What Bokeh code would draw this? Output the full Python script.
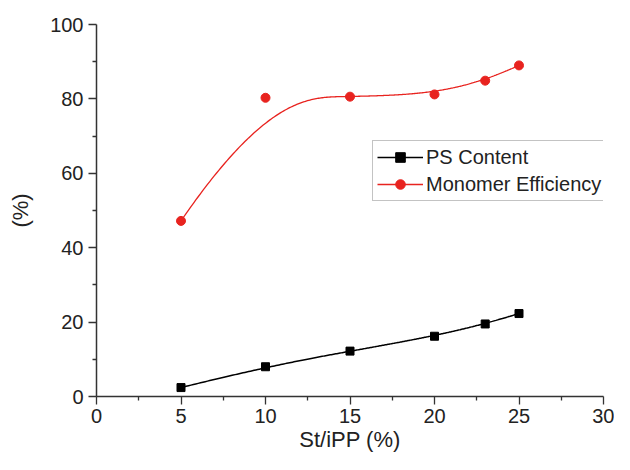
import numpy as np
from bokeh.plotting import figure
from bokeh.models import Range1d, FixedTicker, Legend, LegendItem
from bokeh.embed import file_html
from bokeh.resources import INLINE

# ---- data ----
st_ipp = [5, 10, 15, 20, 23, 25]
ps_content = [2.4, 8.0, 12.2, 16.2, 19.5, 22.3]
monomer_eff = [47.2, 80.3, 80.6, 81.2, 84.9, 89.0]
x_ticks = [0, 5, 10, 15, 20, 25, 30]
y_ticks = [0, 20, 40, 60, 80, 100]
x_minor = [2.5, 7.5, 12.5, 17.5, 22.5, 27.5]
y_minor = [10, 30, 50, 70, 90]

RED = "#E8231F"
FONT = "Liberation Sans"


def bspline(xs, ys, degree=3, n=300):
    P = np.column_stack([xs, ys]).astype(float)
    m = len(P)
    inner = m - degree
    knots = np.concatenate([np.zeros(degree), np.arange(inner + 1), np.full(degree, inner)]).astype(float)
    t = np.linspace(0, inner, n)

    def basis(i, k):
        if k == 0:
            res = ((knots[i] <= t) & (t < knots[i + 1])).astype(float)
            if knots[i] < knots[i + 1] and knots[i + 1] == knots[-1]:
                res[t == knots[-1]] = 1.0
            return res
        d1 = knots[i + k] - knots[i]
        d2 = knots[i + k + 1] - knots[i + 1]
        a = (t - knots[i]) / d1 * basis(i, k - 1) if d1 > 0 else 0.0
        b = (knots[i + k + 1] - t) / d2 * basis(i + 1, k - 1) if d2 > 0 else 0.0
        return a + b

    B = np.array([basis(i, degree) for i in range(m)])
    C = B.T @ P
    return C[:, 0], C[:, 1]


ps_sx, ps_sy = bspline(st_ipp, ps_content)
me_sx, me_sy = bspline(st_ipp, monomer_eff)

p = figure(width=614, height=454, output_backend="svg", toolbar_location=None,
           x_range=Range1d(0, 30), y_range=Range1d(0, 100),
           min_border_left=96, min_border_right=11, min_border_top=24, min_border_bottom=53)
p.outline_line_color = None
p.xgrid.visible = False
p.ygrid.visible = False
p.background_fill_color = "white"
p.border_fill_color = "white"

ps_line = p.line(ps_sx, ps_sy, line_color="black", line_width=1.5)
ps_pts = p.scatter(st_ipp, ps_content, marker="square", size=8, fill_color="black", line_color="black")
me_line = p.line(me_sx, me_sy, line_color=RED, line_width=1.3)
me_pts = p.scatter(st_ipp, monomer_eff, marker="circle", size=9, fill_color=RED, line_color=RED)

for ax, ticks, minor in ((p.xaxis[0], x_ticks, x_minor), (p.yaxis[0], y_ticks, y_minor)):
    ax.ticker = FixedTicker(ticks=ticks, minor_ticks=minor)
    ax.axis_line_color = "#333333"
    ax.axis_line_width = 1.5
    ax.major_tick_line_color = "#333333"
    ax.minor_tick_line_color = "#333333"
    ax.major_tick_line_width = 1.3
    ax.minor_tick_line_width = 1.3
    ax.major_tick_out = 8
    ax.major_tick_in = 0
    ax.minor_tick_out = 4
    ax.minor_tick_in = 0
    ax.major_label_text_font = FONT
    ax.major_label_text_font_size = "20px"
    ax.major_label_text_color = "#222222"
    ax.axis_label_text_font = FONT
    ax.axis_label_text_font_size = "22px"
    ax.axis_label_text_font_style = "normal"
    ax.axis_label_text_color = "#222222"

p.xaxis.axis_label = "St/iPP (%)"
p.yaxis.axis_label = "(%)"
p.xaxis.major_label_standoff = 4
p.xaxis.axis_label_standoff = 1
p.yaxis.major_label_standoff = 5
p.yaxis.axis_label_standoff = 14

legend = Legend(items=[LegendItem(label="PS Content", renderers=[ps_line, ps_pts]),
                       LegendItem(label="Monomer Efficiency", renderers=[me_line, me_pts])],
                location=(276, 195))
legend.label_text_font = FONT
legend.label_text_font_size = "20px"
legend.label_text_color = "#222222"
legend.glyph_width = 46
legend.glyph_height = 24
legend.label_height = 24
legend.label_standoff = 3
legend.spacing = 3
legend.padding = 4
legend.margin = 0
legend.border_line_color = "#888888"
legend.border_line_width = 1
legend.background_fill_alpha = 1.0
p.add_layout(legend)

open("out.html", "w").write(file_html(p, INLINE))
